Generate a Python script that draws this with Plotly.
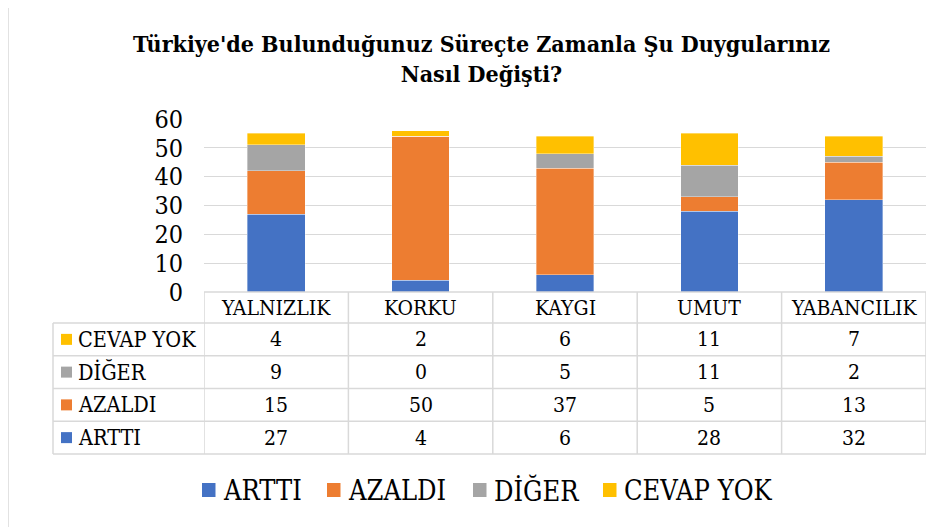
import plotly.graph_objects as go

# ---------------- data ----------------
categories = ["YALNIZLIK", "KORKU", "KAYGI", "UMUT", "YABANCILIK"]
series_names = ["ARTTI", "AZALDI", "DİĞER", "CEVAP YOK"]
artti = [27, 4, 6, 28, 32]
azaldi = [15, 50, 37, 5, 13]
diger = [9, 0, 5, 11, 2]
cevap_yok = [4, 2, 6, 11, 7]
series_values = [artti, azaldi, diger, cevap_yok]
series_colors = ["#4472C4", "#ED7D31", "#A5A5A5", "#FFC000"]
y_ticks = [0, 10, 20, 30, 40, 50, 60]
title_text = "<b>Türkiye'de Bulunduğunuz Süreçte Zamanla Şu Duygularınız<br>Nasıl Değişti?</b>"

# ---------------- layout geometry (page pixels) ----------------
FW, FH = 943, 527
OFF = 8  # page body margin
L, R, T, B = 204, 926, 119, 292
FONT = "DejaVu Serif Condensed"
GRID = "#D9D9D9"


def px(x):
    return (x - L) / (R - L)


def py(y):
    return (B - y) / (B - T)


fig = go.Figure()
for name, vals, col in zip(series_names, series_values, series_colors):
    fig.add_trace(go.Bar(
        x=categories, y=vals, name=name,
        marker=dict(color=col, line=dict(color="rgba(255,255,255,0.6)", width=0.6)),
        showlegend=False,
    ))

shapes = []
annotations = []

shapes.append(dict(type="line", xref="paper", yref="paper", x0=px(8), x1=px(960),
                   y0=py(4), y1=py(4), line=dict(color=GRID, width=1.5)))
shapes.append(dict(type="line", xref="paper", yref="paper", x0=px(8), x1=px(8),
                   y0=py(4), y1=py(540), line=dict(color=GRID, width=1.5)))

header_top, header_bot = 292, 323
row_h = 32.75
n_rows = len(series_names)
row_edges = [header_bot + i * row_h for i in range(n_rows + 1)]
table_left = 53

shapes.append(dict(type="line", xref="paper", yref="paper", x0=0, x1=1,
                   y0=py(header_top), y1=py(header_top), line=dict(color=GRID, width=1.5)))
for ye in row_edges:
    shapes.append(dict(type="line", xref="paper", yref="paper", x0=px(table_left), x1=1,
                       y0=py(ye), y1=py(ye), line=dict(color=GRID, width=1.5)))
shapes.append(dict(type="line", xref="paper", yref="paper", x0=px(table_left), x1=px(table_left),
                   y0=py(row_edges[0]), y1=py(row_edges[-1]), line=dict(color=GRID, width=1.5)))
for i in range(len(categories) + 1):
    shapes.append(dict(type="line", xref="x", yref="paper", x0=i - 0.5, x1=i - 0.5,
                       y0=py(header_top), y1=py(row_edges[-1]), line=dict(color=GRID, width=1.5)))

for c in categories:
    annotations.append(dict(x=c, xref="x", y=py((header_top + header_bot) / 2), yref="paper",
                            text=c, showarrow=False, xanchor="center", yanchor="middle",
                            font=dict(family=FONT, size=21, color="#000000")))

for r, idx in enumerate(reversed(range(n_rows))):
    yc = (row_edges[r] + row_edges[r + 1]) / 2
    shapes.append(dict(type="rect", xref="paper", yref="paper", x0=px(61), x1=px(72),
                       y0=py(yc + 5.5), y1=py(yc - 5.5), fillcolor=series_colors[idx],
                       line=dict(width=0)))
    annotations.append(dict(x=px(76), xref="paper", y=py(yc), yref="paper",
                            text=series_names[idx], showarrow=False, xanchor="left",
                            yanchor="middle", font=dict(family=FONT, size=21.5, color="#000000")))
    for c, v in zip(categories, series_values[idx]):
        annotations.append(dict(x=c, xref="x", y=py(yc), yref="paper", text=str(v),
                                showarrow=False, xanchor="center", yanchor="middle",
                                font=dict(family=FONT, size=21, color="#000000")))

legend_x = [202, 327, 473, 603]
legend_y = 490
for name, col, lx in zip(series_names, series_colors, legend_x):
    shapes.append(dict(type="rect", xref="paper", yref="paper", x0=px(lx), x1=px(lx + 13.5),
                       y0=py(legend_y + 7), y1=py(legend_y - 7), fillcolor=col,
                       line=dict(width=0)))
    annotations.append(dict(x=px(lx + 19), xref="paper", y=py(legend_y), yref="paper",
                            text=name, showarrow=False, xanchor="left", yanchor="middle",
                            font=dict(family=FONT, size=27, color="#000000")))

fig.update_layout(
    width=FW, height=FH,
    margin=dict(l=L - OFF, r=FW - (R - OFF), t=T - OFF, b=FH - (B - OFF), pad=0),
    paper_bgcolor="white", plot_bgcolor="white",
    barmode="stack", bargap=0.6,
    showlegend=False,
    title=dict(text=title_text, x=(481.5 - OFF) / FW, xanchor="center", xref="container",
               y=1 - (52 - OFF) / FH, yanchor="middle", yref="container",
               font=dict(family=FONT, size=23, color="#000000")),
    xaxis=dict(showticklabels=False, showgrid=False, zeroline=False, showline=False,
               range=[-0.5, len(categories) - 0.5]),
    yaxis=dict(range=[0, 60], tickvals=y_ticks, showgrid=True, gridcolor=GRID, gridwidth=1.2,
               zeroline=False, showline=False, ticks="",
               tickfont=dict(family=FONT, size=25, color="#000000"),
               ticklabelstandoff=20),
    shapes=shapes, annotations=annotations,
)

fig.write_html("out.html")
